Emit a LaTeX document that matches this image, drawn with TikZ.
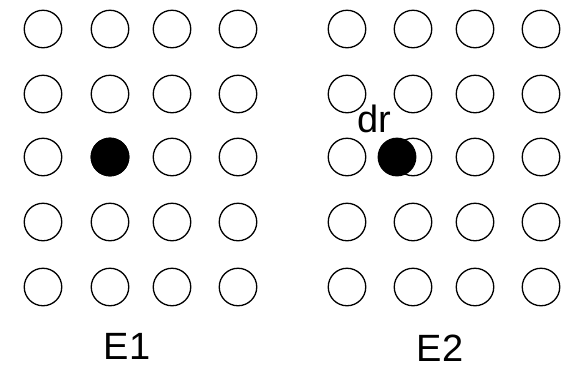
\documentclass[tikz,border=0pt]{standalone}
\usepackage{fontspec}
\setmainfont{Liberation Sans}
\begin{document}
\begin{tikzpicture}[x=1pt,y=-1pt,
  site/.style={circle,draw=black,line width=1.3pt,minimum size=37.5pt,inner sep=0pt},
  atom/.style={site,fill=black},
  lbl/.style={anchor=base,font=\fontsize{38}{45}\selectfont,inner sep=0pt,text depth=0pt}]
  \fill[white] (0,0) rectangle (563,368);
  \useasboundingbox (0,0) rectangle (563,368);
  % lattice E1
  \foreach \c/\x in {1/43,2/110,3/172,4/238}
    \foreach \r/\y in {1/29,2/94,3/157,4/222,5/287}
      \node[site] (a-\r-\c) at (\x,\y) {};
  \node[atom] (atomA) at (a-3-2) {};
  % lattice E2
  \foreach \c/\x in {1/347,2/413,3/475,4/541}
    \foreach \r/\y in {1/29,2/94,3/157,4/222,5/287}
      \node[site] (b-\r-\c) at (\x,\y) {};
  \node[atom] (atomB) at (397,157) {};
  % labels
  \node[lbl] (dr) at (374,132) {dr};
  \node[lbl] (e1) at (127,359) {E1};
  \node[lbl] (e2) at (440,361) {E2};
\end{tikzpicture}
\end{document}
